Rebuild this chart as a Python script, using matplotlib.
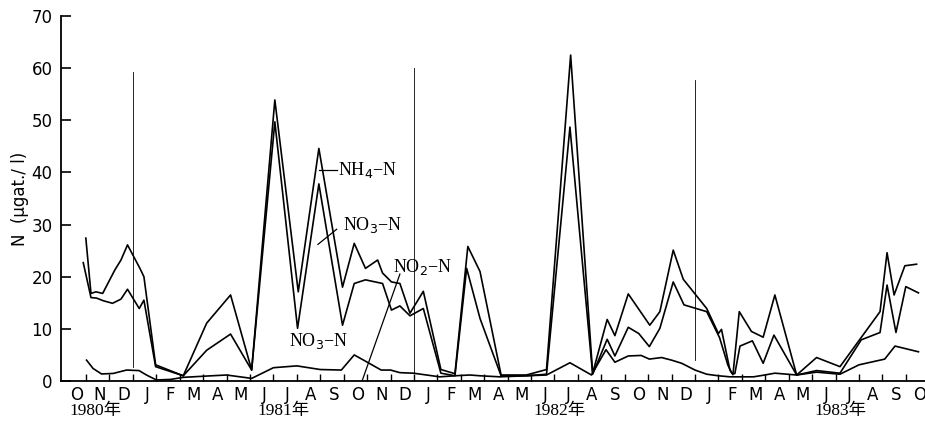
import matplotlib
matplotlib.use('Agg')
import matplotlib.pyplot as plt

# month positions: 0 = start of Oct 1980, one unit per month
nh4_x = [0.99, 1.21, 1.42, 1.71, 2.23, 2.49, 2.77, 3.30, 3.47, 3.97, 5.15, 6.15, 7.17, 8.07,
         9.06, 10.06, 10.94, 11.95, 12.45, 12.93, 13.45, 13.66, 14.04, 14.40, 14.83, 15.40,
         16.15, 16.75, 17.30, 17.82, 18.72, 19.80, 20.66, 21.69, 22.63, 23.25, 23.58, 24.15,
         25.07, 25.50, 26.07, 26.50, 27.50, 28.00, 28.13, 28.49, 28.62, 28.89, 29.41, 29.91,
         30.41, 31.34, 32.19, 33.19, 34.90, 35.20, 35.50, 35.96, 36.46]
nh4_y = [27.4, 16.8, 17.1, 16.8, 21.3, 23.2, 26.1, 21.6, 20.0, 3.1, 1.0, 11.1, 16.5, 2.1,
         53.9, 17.1, 44.6, 18.0, 26.4, 21.6, 23.2, 20.7, 19.0, 18.7, 13.0, 17.2,
         2.2, 1.4, 25.8, 21.0, 1.15, 1.15, 2.2, 62.5, 1.5, 11.8, 8.7, 16.7,
         10.7, 13.3, 25.1, 19.5, 13.9, 9.1, 9.9, 2.1, 1.2, 13.3, 9.5, 8.4,
         16.5, 1.15, 4.5, 2.75, 13.3, 24.6, 16.5, 22.1, 22.4]

no3_x = [0.88, 1.21, 1.45, 1.73, 2.13, 2.49, 2.77, 3.27, 3.47, 3.97, 5.15, 6.15, 7.17, 8.07,
         9.06, 10.03, 10.94, 11.95, 12.45, 12.93, 13.66, 14.04, 14.40, 14.83, 15.40,
         16.15, 16.75, 17.25, 17.82, 18.72, 19.80, 20.66, 21.66, 22.63, 23.25, 23.58, 24.15,
         24.60, 25.05, 25.50, 26.07, 26.53, 27.50, 28.05, 28.40, 28.56, 28.70, 28.92, 29.45,
         29.91, 30.37, 31.34, 32.19, 33.19, 34.10, 34.90, 35.20, 35.58, 36.00, 36.54]
no3_y = [22.7, 16.0, 15.9, 15.4, 14.9, 15.7, 17.6, 13.9, 15.5, 2.75, 1.0, 5.9, 9.0, 2.1,
         49.7, 10.1, 37.8, 10.7, 18.7, 19.4, 18.7, 13.6, 14.4, 12.5, 13.9,
         1.5, 1.0, 21.6, 12.0, 1.0, 1.0, 1.3, 48.7, 1.3, 8.0, 4.8, 10.3,
         9.1, 6.6, 10.1, 19.0, 14.6, 13.3, 8.3, 3.1, 1.6, 1.4, 6.7, 7.7,
         3.4, 8.8, 1.15, 2.0, 1.5, 7.9, 9.3, 18.4, 9.3, 18.1, 16.9]

no2_x = [1.02, 1.30, 1.66, 2.16, 2.73, 3.26, 3.58, 4.00, 4.60, 5.15, 6.15, 7.00, 8.07,
         9.00, 10.00, 11.00, 11.90, 12.45, 12.97, 13.60, 14.00, 14.40, 14.97, 15.54,
         16.10, 16.75, 17.39, 17.82, 18.67, 19.80, 20.66, 21.66, 22.58, 23.20, 23.58,
         24.15, 24.70, 25.05, 25.57, 26.00, 26.43, 27.00, 27.50, 28.00, 28.50, 29.50,
         29.91, 30.41, 31.34, 32.19, 33.19, 34.00, 35.10, 35.54, 36.54]
no2_y = [4.0, 2.4, 1.35, 1.45, 2.1, 2.0, 1.15, 0.2, 0.3, 0.7, 0.95, 1.15, 0.5,
         2.55, 2.9, 2.2, 2.1, 5.0, 3.7, 2.1, 2.1, 1.6, 1.5, 1.15,
         0.8, 1.0, 1.15, 1.0, 0.8, 1.0, 1.15, 3.5, 1.15, 6.0, 3.6,
         4.8, 4.9, 4.2, 4.5, 4.0, 3.4, 2.1, 1.3, 1.0, 0.8, 0.8,
         1.1, 1.5, 1.15, 1.7, 1.3, 3.1, 4.2, 6.7, 5.6]

month_labels = ['O', 'N', 'D'] + ['J', 'F', 'M', 'A', 'M', 'J', 'J', 'A', 'S', 'O', 'N', 'D'] * 2 \
               + ['J', 'F', 'M', 'A', 'M', 'J', 'J', 'A', 'S', 'O']
year_labels = ['1980年', '1981年', '1982年', '1983年']
year_pos = [0.3, 8.3, 20.1, 32.1]
year_lines = [3, 15, 27]
year_line_top = [59.3, 60.0, 57.7]
year_line_bottom = [2.7, 1.5, 4.0]

serif = ['Liberation Serif', 'Noto Sans CJK JP']

fig = plt.figure(figsize=(9.25, 4.28), dpi=100)
ax = fig.add_axes([61 / 925, 47 / 428, 864 / 925, 365 / 428])

ax.plot(nh4_x, nh4_y, color='black', lw=1.2)
ax.plot(no3_x, no3_y, color='black', lw=1.2)
ax.plot(no2_x, no2_y, color='black', lw=1.2)

for xv, top, bot in zip(year_lines, year_line_top, year_line_bottom):
    ax.plot([xv, xv], [bot, top], color='black', lw=0.6)

ax.set_xlim(-0.07, 36.82)
ax.set_ylim(0, 70)
ax.spines['top'].set_visible(False)
ax.spines['right'].set_visible(False)
ax.spines['left'].set_linewidth(1.3)
ax.spines['bottom'].set_linewidth(1.3)

ax.set_yticks(range(0, 71, 10))
ax.tick_params(axis='y', direction='in', length=7, width=1.2, labelsize=12, pad=6)
ax.set_xticks(range(1, 37))
ax.set_xticklabels([])
ax.tick_params(axis='x', direction='in', length=5, width=1.0)
for i, lab in enumerate(month_labels):
    ax.text(i + 0.6, -1.0, lab, ha='center', va='top', fontsize=12)
for xv, lab in zip(year_pos, year_labels):
    ax.text(xv, -4.3, lab, ha='left', va='top', fontsize=12.5, family=serif)

ax.set_ylabel('N  (μgat./ l)', fontsize=12, labelpad=2)

ax.text(11.75, 40.5, 'NH$_4$−N', fontsize=13, family=serif, va='center')
ax.plot([10.95, 11.70], [40.5, 40.5], color='black', lw=0.9)
ax.text(11.95, 30.0, 'NO$_3$−N', fontsize=13, family=serif, va='center')
ax.plot([10.9, 11.7], [26.2, 29.1], color='black', lw=0.9)
ax.text(14.1, 21.8, 'NO$_2$−N', fontsize=13, family=serif, va='center')
ax.plot([12.8, 14.4], [0.2, 20.5], color='black', lw=0.9)
ax.text(9.65, 7.6, 'NO$_3$−N', fontsize=13, family=serif, va='center')

fig.savefig('out.png', dpi=100)
